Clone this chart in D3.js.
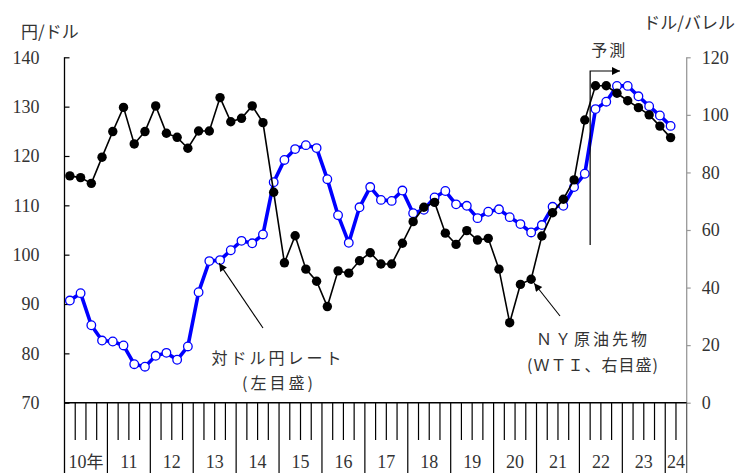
<!DOCTYPE html>
<html>
<head>
<meta charset="utf-8">
<script src="https://cdn.jsdelivr.net/npm/d3@7"></script>
<style>
  body { margin: 0; background: #fff; }
  svg { display: block; }
</style>
</head>
<body>
<svg id="chart" width="740" height="473"></svg>
<script>
// Quarterly axis: 2010Q1 .. 2024Q2 (2024 shows only the first half)
const years = [2010, 2011, 2012, 2013, 2014, 2015, 2016, 2017, 2018, 2019, 2020, 2021, 2022, 2023, 2024];
const yearLabels = ["10年", "11", "12", "13", "14", "15", "16", "17", "18", "19", "20", "21", "22", "23", "24"];
const quartersPerYear = [4, 4, 4, 4, 4, 4, 4, 4, 4, 4, 4, 4, 4, 4, 2];
const quarters = years.flatMap((y, k) => d3.range(1, quartersPerYear[k] + 1).map(q => `${y}Q${q}`));

// Yen per dollar (left scale), 2010Q1 .. 2024Q1
const yenRate = [
  90.7, 92.2, 85.7, 82.6,
  82.4, 81.6, 77.8, 77.3,
  79.5, 80.1, 78.7, 81.4,
  92.4, 98.7, 98.9, 100.9,
  102.8, 102.3, 104.1, 114.7,
  119.2, 121.4, 122.2, 121.6,
  115.3, 108.0, 102.4, 109.6,
  113.7, 111.1, 110.9, 113.0,
  108.4, 109.1, 111.6, 112.9,
  110.2, 109.9, 107.4, 108.7,
  109.2, 107.6, 106.2, 104.5,
  106.0, 109.7, 109.9, 113.7,
  116.4, 129.5, 131.0, 134.2,
  134.2, 132.1, 130.1, 128.2,
  126.1
];

// NY crude futures, WTI, dollars per barrel (right scale), 2010Q1 .. 2024Q1
const wtiPrice = [
  78.8, 78.2, 76.2, 85.3,
  94.2, 102.6, 89.9, 94.2,
  103.1, 93.6, 92.2, 88.4,
  94.4, 94.4, 106.0, 97.6,
  98.8, 103.1, 97.3, 73.1,
  48.6, 58.0, 46.4, 42.2,
  33.4, 45.8, 45.0, 49.3,
  52.1, 48.2, 48.2, 55.4,
  62.9, 67.9, 69.6, 58.9,
  55.0, 59.8, 56.5, 57.1,
  46.4, 27.8, 41.1, 42.9,
  57.9, 66.0, 70.7, 77.4,
  98.2, 110.1, 110.1, 107.5,
  104.9, 102.5, 100.0, 96.1,
  92.1
];

const forecastStart = "2022Q2";
const leftTicks = [70, 80, 90, 100, 110, 120, 130, 140];
const rightTicks = [0, 20, 40, 60, 80, 100, 120];

// ---- layout ----
const W = 740, H = 473;
const plot = { left: 64.5, right: 686.7, top: 57.3, bottom: 402.7 };
const textColor = "#333";
const NUM_FONT = '"Liberation Serif", "Times New Roman", Times, "DejaVu Serif", serif';
const JP_FONT = '"Noto Sans CJK JP", "Noto Sans", sans-serif';

const svg = d3.select("#chart");

const x = d3.scaleBand().domain(quarters).range([plot.left, plot.right]).padding(0);
const cx = q => x(q) + x.bandwidth() / 2;
const yL = d3.scaleLinear().domain([70, 140]).range([plot.bottom, plot.top]);
const yR = d3.scaleLinear().domain([0, 120]).range([plot.bottom, plot.top]);

const yenData = yenRate.map((v, i) => ({ q: quarters[i], v }));
const wtiData = wtiPrice.map((v, i) => ({ q: quarters[i], v }));

// arrowhead marker
const defs = svg.append("defs");
defs.append("marker")
  .attr("id", "arrow")
  .attr("viewBox", "0 0 10 10")
  .attr("refX", 10).attr("refY", 5)
  .attr("markerWidth", 10).attr("markerHeight", 8)
  .attr("markerUnits", "userSpaceOnUse")
  .attr("orient", "auto")
  .append("path").attr("d", "M0,0 L10,5 L0,10 Z").attr("fill", "#000");

function styleNum(sel) {
  sel.style("font-family", NUM_FONT).style("font-size", "18px").style("fill", textColor);
}
function styleJp(sel, size, spacing) {
  sel.style("font-family", JP_FONT).style("font-size", size + "px")
    .style("letter-spacing", spacing + "px").style("fill", textColor);
}

// ---- left axis (ticks point inward) ----
const gL = svg.append("g").attr("transform", `translate(${plot.left},0)`)
  .call(d3.axisLeft(yL).tickValues(leftTicks).tickSize(-5).tickPadding(25));
gL.attr("font-family", null).attr("font-size", null);
gL.select(".domain").remove();
gL.selectAll(".tick line").attr("stroke", "#000").attr("stroke-width", 1.2);
styleNum(gL.selectAll(".tick text"));
svg.append("line")
  .attr("x1", plot.left).attr("x2", plot.left)
  .attr("y1", plot.top).attr("y2", H)
  .attr("stroke", "#000").attr("stroke-width", 1.3);

// ---- right axis (grey, ticks outward) ----
const gR = svg.append("g").attr("transform", `translate(${plot.right},0)`)
  .call(d3.axisRight(yR).tickValues(rightTicks).tickSize(4).tickPadding(11));
gR.attr("font-family", null).attr("font-size", null);
gR.select(".domain").remove();
gR.selectAll(".tick line").attr("stroke", "#999").attr("stroke-width", 1.2);
styleNum(gR.selectAll(".tick text"));
svg.append("line")
  .attr("x1", plot.right).attr("x2", plot.right)
  .attr("y1", plot.top).attr("y2", plot.bottom)
  .attr("stroke", "#999").attr("stroke-width", 1.3);

// ---- bottom axis: quarter ticks and year cells ----
svg.append("line")
  .attr("x1", plot.left).attr("x2", plot.right)
  .attr("y1", plot.bottom).attr("y2", plot.bottom)
  .attr("stroke", "#000").attr("stroke-width", 1.6);

const boundaries = quarters.slice(1).map(q => ({ x: x(q), yearStart: q.endsWith("Q1") }));
boundaries.push({ x: plot.right, yearStart: true });
svg.append("g").selectAll("line").data(boundaries).join("line")
  .attr("x1", d => d.x).attr("x2", d => d.x)
  .attr("y1", plot.bottom).attr("y2", d => d.yearStart ? H : 440)
  .attr("stroke", d => d.x === plot.right ? "#555" : "#000")
  .attr("stroke-width", 1.2);

const yearText = svg.append("g").selectAll("text").data(years).join("text")
  .attr("x", (y, k) => {
    const first = x(`${y}Q1`);
    const last = x(`${y}Q${quartersPerYear[k]}`) + x.bandwidth();
    return (first + last) / 2;
  })
  .attr("y", 468)
  .attr("text-anchor", "middle");
styleNum(yearText);
yearText.each(function (y, k) {
  const t = d3.select(this);
  const lbl = yearLabels[k];
  if (lbl.endsWith("年")) {
    // the "年" suffix is set in the Japanese face
    t.append("tspan").text(lbl.slice(0, -1));
    t.append("tspan").style("font-family", JP_FONT).style("font-size", "17px").text("年");
  } else {
    t.text(lbl);
  }
});

// ---- series ----
svg.append("path").datum(yenData)
  .attr("fill", "none").attr("stroke", "#0000ff").attr("stroke-width", 3.6)
  .attr("stroke-linejoin", "round")
  .attr("d", d3.line().x(d => cx(d.q)).y(d => yL(d.v)));
svg.append("g").selectAll("circle").data(yenData).join("circle")
  .attr("cx", d => cx(d.q)).attr("cy", d => yL(d.v)).attr("r", 4.3)
  .attr("fill", "#fff").attr("stroke", "#0000ff").attr("stroke-width", 1.3);

svg.append("path").datum(wtiData)
  .attr("fill", "none").attr("stroke", "#000").attr("stroke-width", 1.6)
  .attr("d", d3.line().x(d => cx(d.q)).y(d => yR(d.v)));
svg.append("g").selectAll("circle").data(wtiData).join("circle")
  .attr("cx", d => cx(d.q)).attr("cy", d => yR(d.v)).attr("r", 4.7)
  .attr("fill", "#000");

// ---- forecast marker ----
const fx = x(forecastStart);
svg.append("path")
  .attr("d", `M${fx},245 V71 H620`)
  .attr("fill", "none").attr("stroke", "#000").attr("stroke-width", 1.2)
  .attr("marker-end", "url(#arrow)");
styleJp(svg.append("text").attr("x", fx + 1).attr("y", 56).text("予測"), 16, 2);

// ---- axis titles ----
styleJp(svg.append("text").attr("x", 21).attr("y", 38).text("円/ドル"), 17, 0);
styleJp(svg.append("text").attr("x", 735).attr("y", 29).attr("text-anchor", "end").text("ドル/バレル"), 17, 0);

// ---- series annotations ----
const yenTip = { x: cx("2013Q3") - 1, y: yL(yenRate[14]) + 3 };
svg.append("line")
  .attr("x1", 263).attr("y1", 328).attr("x2", yenTip.x).attr("y2", yenTip.y)
  .attr("stroke", "#000").attr("stroke-width", 1.1).attr("marker-end", "url(#arrow)");
styleJp(svg.append("text").attr("x", 278).attr("y", 364).attr("text-anchor", "middle").text("対ドル円レート"), 16, 3);
styleJp(svg.append("text").attr("x", 279).attr("y", 389).attr("text-anchor", "middle").text("(左目盛)"), 16, 3);

const wtiTip = { x: cx("2020Q4") + 3, y: yR(wtiPrice[43]) + 4 };
svg.append("line")
  .attr("x1", 560).attr("y1", 316).attr("x2", wtiTip.x).attr("y2", wtiTip.y)
  .attr("stroke", "#000").attr("stroke-width", 1.1).attr("marker-end", "url(#arrow)");
styleJp(svg.append("text").attr("x", 593).attr("y", 345).attr("text-anchor", "middle").text("ＮＹ原油先物"), 16, 3);
styleJp(svg.append("text").attr("x", 593).attr("y", 371).attr("text-anchor", "middle").text("(ＷＴＩ、右目盛)"), 16, 1);
</script>
</body>
</html>
